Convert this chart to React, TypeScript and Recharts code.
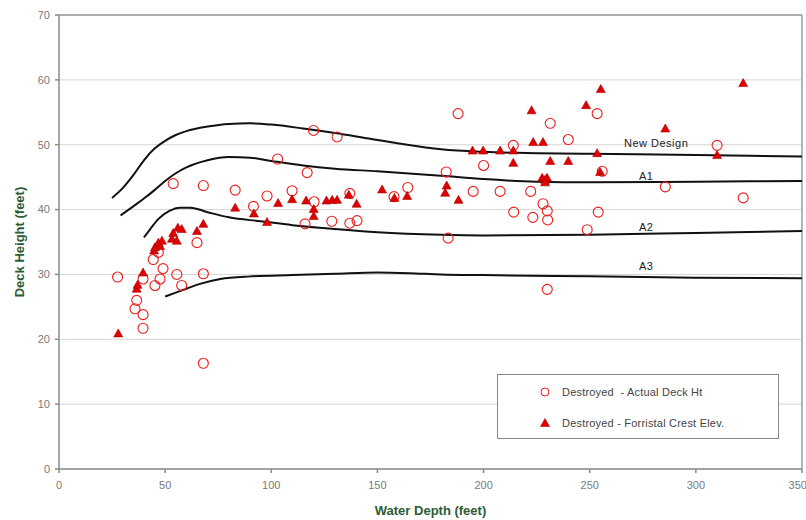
import React from "react";
import {
  ComposedChart,
  Line,
  Scatter,
  XAxis,
  YAxis,
  CartesianGrid,
  ReferenceLine,
  ReferenceDot,
  Legend,
} from "recharts";

// Deck height vs water depth for destroyed platforms, with the design
// criteria curves (New Design, A1, A2, A3) drawn on top.

const X_TICKS = [0, 50, 100, 150, 200, 250, 300, 350];
const Y_TICKS = [0, 10, 20, 30, 40, 50, 60, 70];

// Destroyed - actual deck height (open circles)
const DECK_HT = [
  { x: 27.6, y: 29.6 }, { x: 35.8, y: 24.7 }, { x: 36.6, y: 26.0 }, { x: 39.6, y: 23.8 },
  { x: 39.6, y: 21.7 }, { x: 39.6, y: 29.3 }, { x: 44.4, y: 32.3 }, { x: 46.8, y: 33.4 },
  { x: 49.0, y: 30.9 }, { x: 47.6, y: 29.3 }, { x: 45.2, y: 28.3 }, { x: 55.5, y: 30.0 },
  { x: 57.8, y: 28.3 }, { x: 68.0, y: 30.1 }, { x: 68.0, y: 16.3 }, { x: 65.0, y: 34.9 },
  { x: 53.8, y: 44.0 }, { x: 68.0, y: 43.7 }, { x: 83.0, y: 43.0 }, { x: 91.6, y: 40.5 },
  { x: 98.0, y: 42.1 }, { x: 103.0, y: 47.8 }, { x: 109.8, y: 42.9 }, { x: 116.9, y: 45.7 },
  { x: 119.9, y: 52.2 }, { x: 131.0, y: 51.2 }, { x: 120.2, y: 41.2 }, { x: 115.9, y: 37.8 },
  { x: 128.5, y: 38.2 }, { x: 137.0, y: 42.5 }, { x: 137.0, y: 37.9 }, { x: 140.4, y: 38.3 },
  { x: 157.8, y: 42.0 }, { x: 164.3, y: 43.4 }, { x: 188.0, y: 54.8 }, { x: 182.4, y: 45.8 },
  { x: 183.3, y: 35.6 }, { x: 195.1, y: 42.8 }, { x: 200.0, y: 46.8 }, { x: 207.8, y: 42.8 },
  { x: 214.0, y: 49.9 }, { x: 214.2, y: 39.6 }, { x: 222.2, y: 42.8 }, { x: 223.2, y: 38.8 },
  { x: 228.0, y: 40.9 }, { x: 230.0, y: 39.8 }, { x: 230.2, y: 38.4 }, { x: 231.4, y: 53.3 },
  { x: 230.0, y: 27.7 }, { x: 239.9, y: 50.8 }, { x: 253.5, y: 54.8 }, { x: 255.9, y: 45.9 },
  { x: 254.0, y: 39.6 }, { x: 248.8, y: 36.9 }, { x: 285.6, y: 43.5 }, { x: 310.0, y: 49.9 },
  { x: 322.3, y: 41.8 },
];

// Destroyed - Forristall crest elevation (filled triangles)
const CREST_ELEV = [
  { x: 27.9, y: 20.9 }, { x: 36.6, y: 27.8 }, { x: 37.0, y: 28.4 }, { x: 39.6, y: 30.3 },
  { x: 44.8, y: 33.7 }, { x: 45.2, y: 34.2 }, { x: 46.8, y: 34.9 }, { x: 47.6, y: 34.4 },
  { x: 48.5, y: 35.2 }, { x: 53.2, y: 35.5 }, { x: 55.5, y: 35.2 }, { x: 53.8, y: 36.4 },
  { x: 56.0, y: 37.2 }, { x: 57.8, y: 37.0 }, { x: 65.0, y: 36.7 }, { x: 68.0, y: 37.8 },
  { x: 83.0, y: 40.3 }, { x: 91.8, y: 39.4 }, { x: 98.0, y: 38.1 }, { x: 103.2, y: 41.0 },
  { x: 109.8, y: 41.6 }, { x: 116.4, y: 41.4 }, { x: 120.0, y: 40.1 }, { x: 120.0, y: 39.0 },
  { x: 126.0, y: 41.4 }, { x: 128.7, y: 41.5 }, { x: 131.0, y: 41.5 }, { x: 136.5, y: 42.3 },
  { x: 140.2, y: 40.9 }, { x: 152.2, y: 43.1 }, { x: 158.0, y: 41.8 }, { x: 164.0, y: 42.1 },
  { x: 182.6, y: 43.7 }, { x: 181.9, y: 42.6 }, { x: 188.2, y: 41.5 }, { x: 194.8, y: 49.1 },
  { x: 199.8, y: 49.1 }, { x: 207.8, y: 49.1 }, { x: 214.0, y: 49.1 }, { x: 214.0, y: 47.2 },
  { x: 222.6, y: 55.3 }, { x: 223.4, y: 50.4 }, { x: 228.0, y: 50.4 }, { x: 231.4, y: 47.5 },
  { x: 239.9, y: 47.5 }, { x: 227.6, y: 44.9 }, { x: 229.0, y: 44.6 }, { x: 229.9, y: 44.9 },
  { x: 229.0, y: 44.2 }, { x: 248.3, y: 56.1 }, { x: 255.2, y: 58.6 }, { x: 253.5, y: 48.7 },
  { x: 254.9, y: 45.8 }, { x: 285.6, y: 52.5 }, { x: 310.0, y: 48.4 }, { x: 322.3, y: 59.5 },
];

// Design criteria curves
const NEW_DESIGN = [
  { x: 25, y: 41.8 }, { x: 30, y: 43.3 }, { x: 35, y: 45.3 }, { x: 40, y: 47.6 },
  { x: 45, y: 49.4 }, { x: 50, y: 50.6 }, { x: 55, y: 51.5 }, { x: 60, y: 52.1 },
  { x: 70, y: 52.8 }, { x: 80, y: 53.2 }, { x: 90, y: 53.3 }, { x: 100, y: 53.1 },
  { x: 115, y: 52.5 }, { x: 130, y: 51.8 }, { x: 145, y: 51.0 }, { x: 160, y: 50.2 },
  { x: 180, y: 49.3 }, { x: 200, y: 48.9 }, { x: 225, y: 48.7 }, { x: 250, y: 48.6 },
  { x: 300, y: 48.4 }, { x: 350, y: 48.2 },
];

const A1 = [
  { x: 29, y: 39.1 }, { x: 35, y: 40.5 }, { x: 40, y: 41.7 }, { x: 45, y: 43.0 },
  { x: 50, y: 44.4 }, { x: 55, y: 45.6 }, { x: 60, y: 46.5 }, { x: 70, y: 47.6 },
  { x: 80, y: 48.1 }, { x: 90, y: 48.0 }, { x: 100, y: 47.5 }, { x: 115, y: 46.8 },
  { x: 130, y: 46.3 }, { x: 150, y: 45.9 }, { x: 180, y: 45.2 }, { x: 200, y: 44.7 },
  { x: 225, y: 44.3 }, { x: 250, y: 44.2 }, { x: 300, y: 44.3 }, { x: 350, y: 44.4 },
];

const A2 = [
  { x: 40, y: 35.7 }, { x: 43, y: 37.0 }, { x: 47, y: 38.6 }, { x: 52, y: 39.8 },
  { x: 57, y: 40.3 }, { x: 62, y: 40.3 }, { x: 70, y: 39.6 }, { x: 80, y: 38.8 },
  { x: 95, y: 38.2 }, { x: 110, y: 37.6 }, { x: 130, y: 37.0 }, { x: 150, y: 36.5 },
  { x: 180, y: 36.1 }, { x: 200, y: 36.0 }, { x: 250, y: 36.1 }, { x: 300, y: 36.4 },
  { x: 350, y: 36.7 },
];

const A3 = [
  { x: 50, y: 26.6 }, { x: 55, y: 27.2 }, { x: 60, y: 27.8 }, { x: 66, y: 28.5 },
  { x: 76, y: 29.3 }, { x: 90, y: 29.7 }, { x: 110, y: 29.9 }, { x: 130, y: 30.1 },
  { x: 150, y: 30.3 }, { x: 165, y: 30.2 }, { x: 180, y: 30.0 }, { x: 200, y: 29.9 },
  { x: 250, y: 29.7 }, { x: 300, y: 29.5 }, { x: 350, y: 29.4 },
];

const CURVES = [NEW_DESIGN, A1, A2, A3];
const CURVE_NAMES = ["New Design", "A1", "A2", "A3"];

const RED = "#ee1c1c";
const FONT = "'Liberation Sans', Arial, sans-serif";

function OpenCircle({ cx, cy }: { cx?: number; cy?: number }) {
  if (cx == null || cy == null) return null;
  return <circle cx={cx} cy={cy} r={5} fill="none" stroke={RED} strokeWidth={1.1} />;
}

function Triangle({ cx, cy }: { cx?: number; cy?: number }) {
  if (cx == null || cy == null) return null;
  return (
    <polygon
      points={`${cx},${cy - 4.5} ${cx + 4.5},${cy + 3.5} ${cx - 4.5},${cy + 3.5}`}
      fill="#e00000"
      stroke="#a80000"
      strokeWidth={0.6}
    />
  );
}

function CurveLabel({ cx, cy, text }: { cx?: number; cy?: number; text: string }) {
  return (
    <text x={cx} y={cy} textAnchor="middle" dominantBaseline="central" fontSize={11} fill="#222" letterSpacing={0.5} fontFamily={FONT}>
      {text}
    </text>
  );
}

// label anchors in data units, one per curve
const LABEL_AT = [
  { x: 281.3, y: 50.2 },
  { x: 276.6, y: 45.2 },
  { x: 276.6, y: 37.3 },
  { x: 276.6, y: 31.3 },
];

function YTitle({ viewBox }: { viewBox?: { x: number; y: number; height: number } }) {
  if (!viewBox) return null;
  const cx = viewBox.x - 10;
  const cy = viewBox.y + viewBox.height / 2;
  return (
    <text x={cx} y={cy} transform={`rotate(-90 ${cx} ${cy})`} textAnchor="middle" dominantBaseline="central" fontSize={13} fontWeight="bold" fill="#2b5c36" fontFamily={FONT}>
      Deck Height (feet)
    </text>
  );
}

function LegendBox() {
  const row = (marker: React.ReactNode, label: string) => (
    <div style={{ display: "flex", alignItems: "center", height: 31 }}>
      <svg width={60} height={14} style={{ flex: "none" }}>
        {marker}
      </svg>
      <span style={{ marginLeft: 4, fontSize: 11, color: "#444", fontFamily: FONT, letterSpacing: 0.2, whiteSpace: "pre" }}>{label}</span>
    </div>
  );
  return (
    <div style={{ width: 280, height: 62, border: "1px solid #888", background: "#fff", paddingTop: 1 }}>
      {row(<circle cx={47} cy={7} r={4} fill="none" stroke={RED} strokeWidth={1} />, "Destroyed  - Actual Deck Ht")}
      {row(<polygon points="47,2.5 51.5,10.5 42.5,10.5" fill="#e00000" stroke="#a80000" strokeWidth={0.6} />, "Destroyed - Forristal Crest Elev.")}
    </div>
  );
}

export default function App() {
  return (
    <div style={{ position: "absolute", left: 0, top: 0, background: "#fff" }}>
      <ComposedChart width={806} height={520} margin={{ top: 15, right: 4, left: 29, bottom: 1 }}>
        <CartesianGrid vertical={false} stroke="#d6d6d6" strokeWidth={1} />
        <XAxis
          type="number"
          dataKey="x"
          domain={[0, 350]}
          ticks={X_TICKS}
          allowDataOverflow
          height={50}
          tickSize={4}
          tickMargin={8}
          stroke="#8a8a8a"
          strokeWidth={1.5}
          tick={{ fontSize: 11, fill: "#7a7a7a", fontFamily: FONT }}
          label={{ value: "Water Depth (feet)", position: "insideBottom", offset: 4, fontSize: 13, fontWeight: "bold", fill: "#2b5c36", fontFamily: FONT }}
        />
        <YAxis
          type="number"
          dataKey="y"
          domain={[0, 70]}
          ticks={Y_TICKS}
          allowDataOverflow
          width={30}
          tickSize={4}
          tickMargin={5}
          stroke="#8a8a8a"
          strokeWidth={1.5}
          tick={{ fontSize: 11, fill: "#7a7a7a", fontFamily: FONT }}
          label={<YTitle />}
        />
        <ReferenceLine y={70} stroke="#9a9a9a" strokeWidth={1.5} />
        <ReferenceLine x={350} stroke="#9a9a9a" strokeWidth={1.5} />
        {CURVES.map((c, i) => (
          <Line
            key={CURVE_NAMES[i]}
            data={c}
            dataKey="y"
            type="monotone"
            stroke="#111"
            strokeWidth={2}
            dot={false}
            activeDot={false}
            isAnimationActive={false}
          />
        ))}
        <Scatter data={DECK_HT} dataKey="y" shape={<OpenCircle />} isAnimationActive={false} />
        <Scatter data={CREST_ELEV} dataKey="y" shape={<Triangle />} isAnimationActive={false} />
        {LABEL_AT.map((p, i) => (
          <ReferenceDot key={CURVE_NAMES[i]} x={p.x} y={p.y} r={0} shape={(props: any) => <CurveLabel cx={props.cx} cy={props.cy} text={CURVE_NAMES[i]} />} />
        ))}
        <Legend
          verticalAlign="middle"
          align="center"
          layout="horizontal"
          content={() => <LegendBox />}
          wrapperStyle={{ left: 497, top: 374, width: 282 }}
        />
      </ComposedChart>
    </div>
  );
}
